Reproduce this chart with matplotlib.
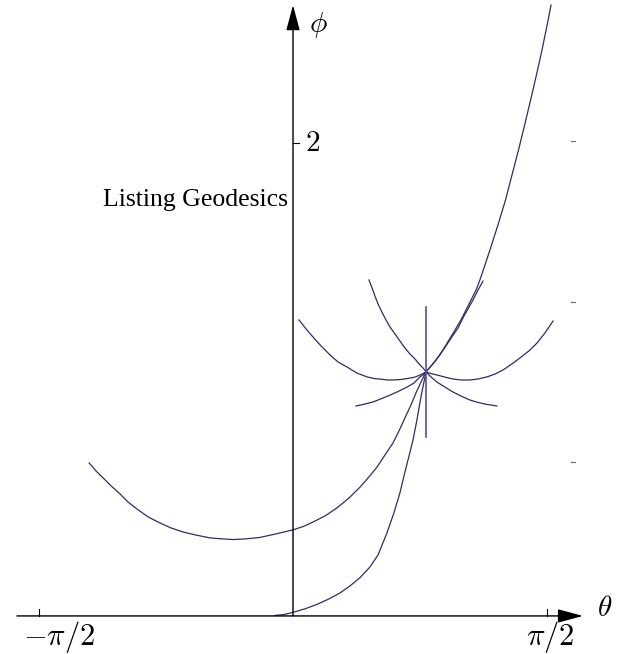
import matplotlib
matplotlib.use("Agg")
import matplotlib.pyplot as plt

plt.rcParams['mathtext.fontset'] = 'cm'

# geodesics (theta in rad, phi)
# steep curve from the origin, running up to the top
a_theta = [-0.111, -0.056, 0.0, 0.074, 0.148, 0.222, 0.290, 0.352, 0.414, 0.475, 0.525,
           0.580, 0.623, 0.660, 0.685, 0.710, 0.741, 0.765, 0.790, 0.821,
           0.852, 0.883, 0.926, 0.963, 1.000, 1.037, 1.068, 1.099, 1.130, 1.154, 1.185,
           1.216, 1.265, 1.312, 1.352, 1.392, 1.430, 1.467, 1.503, 1.537, 1.569, 1.593]
a_phi = [0.002, 0.006, 0.015, 0.030, 0.049, 0.072, 0.097, 0.127, 0.162, 0.207, 0.258,
         0.351, 0.436, 0.520, 0.592, 0.660, 0.744, 0.829, 0.926, 1.032,
         1.057, 1.082, 1.125, 1.167, 1.209, 1.252, 1.294, 1.336, 1.378, 1.421, 1.484,
         1.548, 1.653, 1.759, 1.865, 1.970, 2.076, 2.182, 2.288, 2.393, 2.499, 2.584]

# U shaped curve from the left
b_theta = [-1.259, -1.216, -1.173, -1.123, -1.068, -1.019, -0.963, -0.895, -0.821, -0.753,
           -0.679, -0.599, -0.512, -0.438, -0.370, -0.290, -0.204, -0.105, 0.0, 0.062,
           0.123, 0.198, 0.272, 0.346, 0.414, 0.469, 0.519, 0.568, 0.617, 0.654,
           0.691, 0.728, 0.759, 0.790, 0.821,
           0.864, 0.907, 0.944, 0.981, 1.019, 1.049, 1.080, 1.111, 1.142, 1.173]
b_phi = [0.647, 0.613, 0.584, 0.550, 0.516, 0.482, 0.452, 0.419, 0.393, 0.372,
         0.355, 0.342, 0.330, 0.326, 0.323, 0.326, 0.332, 0.347, 0.364, 0.378,
         0.397, 0.423, 0.457, 0.499, 0.545, 0.588, 0.630, 0.681, 0.731, 0.782,
         0.837, 0.892, 0.943, 0.989, 1.032,
         1.066, 1.104, 1.142, 1.180, 1.218, 1.260, 1.298, 1.336, 1.378, 1.416]

# falling curve through the point
c_theta = [0.469, 0.488, 0.506, 0.525, 0.549, 0.574, 0.599, 0.630, 0.660, 0.691, 0.722,
           0.753, 0.778, 0.802, 0.821, 0.852, 0.889, 0.938, 0.988, 1.037, 1.093,
           1.142, 1.185, 1.222, 1.259]
c_phi = [1.421, 1.387, 1.353, 1.319, 1.285, 1.252, 1.222, 1.192, 1.163, 1.133, 1.108,
         1.087, 1.066, 1.049, 1.032, 1.011, 0.989, 0.968, 0.947, 0.930, 0.913,
         0.903, 0.896, 0.892, 0.888]

# left and right halves of the W
wl_theta = [0.037, 0.080, 0.123, 0.173, 0.228, 0.278, 0.333, 0.395, 0.457, 0.500,
            0.537, 0.580, 0.617, 0.667, 0.722, 0.753, 0.784, 0.802, 0.821]
wl_phi = [1.252, 1.214, 1.180, 1.142, 1.104, 1.074, 1.053, 1.027, 1.011, 1.004,
          1.002, 0.998, 0.998, 1.000, 1.006, 1.010, 1.019, 1.025, 1.032]
wr_theta = [0.821, 0.852, 0.889, 0.938, 0.988, 1.037, 1.093, 1.142, 1.198, 1.247,
            1.296, 1.352, 1.401, 1.457, 1.506, 1.556, 1.605]
wr_phi = [1.032, 1.025, 1.019, 1.010, 1.002, 0.998, 0.998, 1.002, 1.011, 1.023,
          1.040, 1.066, 1.091, 1.121, 1.154, 1.197, 1.247]

# lower left arc
nl_theta = [0.389, 0.438, 0.494, 0.543, 0.599, 0.648, 0.704, 0.747, 0.784, 0.802, 0.821]
nl_phi = [0.888, 0.895, 0.905, 0.918, 0.934, 0.949, 0.968, 0.985, 1.011, 1.019, 1.032]

# vertical geodesic
v_theta = [0.821, 0.821]
v_phi = [0.757, 1.307]

# stray ticks at the right
side_phi = [2.008, 1.328, 0.651]
side_theta = 1.728

fig = plt.figure(figsize=(6.21, 6.54), dpi=100)
ax = fig.add_axes([0, 0, 1, 1])
ax.set_xlim(-1.809, 2.025)
ax.set_ylim(-0.161, 2.605)
ax.axis('off')

col = '#2e2e66'
for th, ph in [(a_theta, a_phi), (b_theta, b_phi), (c_theta, c_phi),
               (wl_theta, wl_phi), (wr_theta, wr_phi), (nl_theta, nl_phi)]:
    ax.plot(th, ph, color=col, lw=0.9, solid_joinstyle='round')
ax.plot(v_theta, v_phi, color='#5050a0', lw=1.2)

# axes with arrows
arr = dict(arrowstyle='-|>,head_length=1.3,head_width=0.35', color='k', lw=1.0,
           shrinkA=0, shrinkB=0, mutation_scale=12)
ax.annotate('', xy=(1.79, 0), xytext=(-1.704, 0), arrowprops=arr)
ax.annotate('', xy=(0, 2.583), xytext=(0, 0), arrowprops=arr)

# ticks
dx = 6 / 162
dy = 7 / 236.5
for t in [-1.5708, 1.5708]:
    ax.plot([t, t], [0, dy], color='k', lw=0.8)
ax.plot([0, dx], [2, 2], color='k', lw=0.8)
for p in side_phi:
    ax.plot([side_theta - 0.012, side_theta + 0.012], [p, p], color='#666666', lw=0.8)

fs = 21
ax.text(0.074, 2.0, r'$2$', fontsize=fs, ha='left', va='center')
ax.text(-1.444, -0.088, r'$-\pi/2$', fontsize=22, ha='center', va='center')
ax.text(1.59, -0.088, r'$\pi/2$', fontsize=22, ha='center', va='center')
ax.text(0.154, 2.499, r'$\phi$', fontsize=fs, ha='center', va='center')
ax.text(1.926, 0.034, r'$\theta$', fontsize=fs, ha='center', va='center')
ax.text(-0.031, 1.733, 'Listing Geodesics', fontsize=18.5, family='Liberation Serif',
        ha='right', va='baseline')

fig.savefig('out.png', dpi=100)
